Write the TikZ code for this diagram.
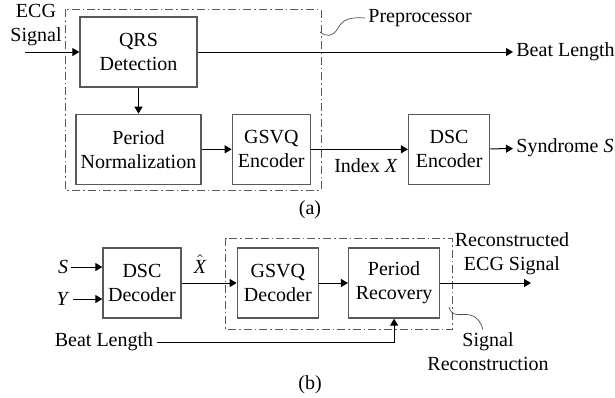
\documentclass[tikz,border=0pt]{standalone}
\usepackage{fontspec}
\setmainfont{Liberation Serif}
\usetikzlibrary{positioning,arrows.meta}

\begin{document}
\begin{tikzpicture}[
        x=0.5pt, y=-0.5pt,
        blockbox/.style={rectangle, draw=black!65, line width=0.65pt, minimum height=35pt, align=center, inner sep=0pt},
        groupbox/.style={draw=black!65, line width=0.45pt, dash pattern=on 4pt off 1.5pt on 0.8pt off 1.5pt},
        sigline/.style={line width=0.5pt, -{Triangle[length=3.5pt,width=4pt]}},
        tagtext/.style={align=center, inner sep=1.5pt},
        squiggle/.style={line width=0.35pt, black!70},
    ]
    \useasboundingbox (0,0) rectangle (615,397);

    %Nodes: encoder side (a)
    \node[blockbox, minimum width=58.5pt] (qrs)     at (138.5,52)          {QRS\\Detection};
    \node[blockbox, minimum width=62.5pt] (pn)      [below=13pt of qrs]     {Period\\Normalization};
    \node[blockbox, minimum width=39pt]   (gsvqenc) [right=15pt of pn]      {GSVQ\\Encoder};
    \node[blockbox, minimum width=40.5pt] (dscenc)  [right=48.5pt of gsvqenc] {DSC\\Encoder};

    \node[tagtext]              (ecgin)    at (36,25)   {ECG\\Signal};
    \coordinate                 (ecgstart) at (25,52);
    \node[tagtext, anchor=west] (beatout)  at (513,52)  {Beat Length};
    \node[tagtext, anchor=west] (synd)     at (513,148) {Syndrome \textit{S}};
    \node[tagtext]              (idx)      at (366,166) {Index \textit{X}};
    \node[tagtext, anchor=west] (prelabel) at (365,18)  {Preprocessor};
    \coordinate                 (prepoint) at (320,32);
    \node[tagtext]              (capa)     at (310,210) {(a)};

    %Nodes: decoder side (b)
    \node[blockbox, minimum width=39pt]   (dscdec)  at (142,283)               {DSC\\Decoder};
    \node[blockbox, minimum width=40.5pt] (gsvqdec) [right=27.5pt of dscdec]   {GSVQ\\Decoder};
    \node[blockbox, minimum width=45.5pt] (pr)      [right=14.5pt of gsvqdec]  {Period\\Recovery};

    \node[tagtext] (sin)     at (63,267)  {\textit{S}};
    \node[tagtext] (yin)     at (63,299)  {\textit{Y}};
    \node[tagtext] (xhat)    at (200,264) {$\hat{\textit{X}}$};
    \node[tagtext] (recon)   at (512,254) {Reconstructed\\ECG Signal};
    \coordinate    (reconend) at (531,283);
    \node[tagtext] (beatin)  at (104,342) {Beat Length};
    \node[tagtext] (sigrec)  at (488,352) {Signal\\Reconstruction};
    \coordinate    (recpoint) at (449,307);
    \node[tagtext] (capb)    at (310,385) {(b)};

    %Dash-dot boxes
    \draw[groupbox] ([shift={(-5pt,3.5pt)}]pn.west |- qrs.north) rectangle ([shift={(5pt,-2.5pt)}]gsvqenc.south east);
    \draw[groupbox] ([shift={(-5.5pt,4.5pt)}]gsvqdec.north west) rectangle ([shift={(6pt,-5.5pt)}]pr.south east);

    %Lines: encoder side
    \path[sigline] (ecgstart) edge (qrs);
    \path[sigline] (qrs) edge (beatout);
    \path[sigline] (qrs.south) edge (qrs.south |- pn.north);
    \path[sigline] (pn) edge (gsvqenc);
    \path[sigline] (gsvqenc) edge (dscenc);
    \path[sigline] (dscenc) edge (synd);
    \draw[squiggle] (prepoint) .. controls (326,37) and (333,37) .. (338,28) .. controls (343,19) and (350,17) .. (prelabel.west);

    %Lines: decoder side
    \draw[sigline] (sin) -- (sin -| dscdec.west);
    \draw[sigline] (yin) -- (yin -| dscdec.west);
    \path[sigline] (dscdec) edge (gsvqdec);
    \path[sigline] (gsvqdec) edge (pr);
    \path[sigline] (pr) edge (reconend);
    \draw[sigline] (beatin) -| (pr);
    \draw[squiggle] (recpoint) .. controls (452,318) and (460,313) .. (470,315) .. controls (478,317) and (481,323) .. (sigrec.north -| 483,0);
\end{tikzpicture}
\end{document}
